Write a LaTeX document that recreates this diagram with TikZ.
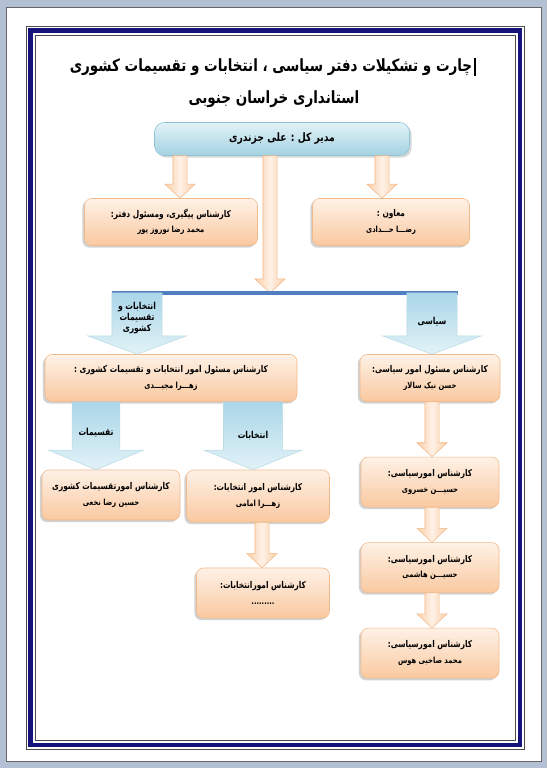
\documentclass[tikz,border=0pt]{standalone}
\usepackage{fontspec}
\newfontfamily\fafont[Script=Arabic, FakeStretch=0.8]{DejaVu Sans}
\TeXXeTstate=1
\usetikzlibrary{positioning,calc,shadows}
\definecolor{navyframe}{HTML}{16137A}
\definecolor{deskgray}{HTML}{B3C0D3}
\definecolor{peachtop}{HTML}{FEF1E6}
\definecolor{peachbot}{HTML}{FAC9A0}
\definecolor{peachline}{HTML}{F2B98A}
\definecolor{peacharr}{HTML}{FBCFA8}
\definecolor{skytop}{HTML}{E2F2F7}
\definecolor{skybot}{HTML}{A4D2E2}
\definecolor{skyline}{HTML}{8CC3D6}
\definecolor{bluearr}{HTML}{AAD6E9}
\definecolor{barline}{HTML}{4F7FC0}
\newcommand{\fa}[1]{\beginR #1\endR}
\newcommand{\subtxt}{\fontsize{6}{7}\selectfont}
\newcommand{\blkarrow}[6]{%
  \path[#1] let \p1=(#2), \p2=(#3) in
    (\x1-#4,\y1) -- (\x1-#4,\y2+#6) -- (\x1-#5,\y2+#6) -- (\x1,\y2)
    -- (\x1+#5,\y2+#6) -- (\x1+#4,\y2+#6) -- (\x1+#4,\y1) -- cycle;}
\tikzset{
  headtxt/.style={font=\fafont\bfseries\fontsize{12}{14}\selectfont, inner sep=0pt},
  bossbox/.style={draw=skyline, rounded corners=7pt, top color=skytop, bottom color=skybot,
    drop shadow={shadow xshift=1.5pt, shadow yshift=-1.5pt, opacity=.3},
    minimum width=255*0.025cm, minimum height=33*0.025cm, font=\fafont\bfseries\fontsize{8.2}{9}\selectfont},
  pbox/.style={draw=peachline, rounded corners=5pt, top color=peachtop, bottom color=peachbot,
    drop shadow={shadow xshift=-1.5pt, shadow yshift=-1.5pt, opacity=.35},
    align=center, minimum height=47*0.025cm, font=\fafont\bfseries\fontsize{6.6}{11}\selectfont},
  parr/.style={draw=peachline, left color=peacharr, right color=peacharr, middle color=peachtop},
  barr/.style={draw=skyline!60, top color=bluearr, bottom color=skytop},
  arrlbl/.style={font=\fafont\bfseries\fontsize{6.8}{8}\selectfont, align=center}
}
\begin{document}
\begin{tikzpicture}[x=0.025cm, y=-0.025cm]
\useasboundingbox (0,0) rectangle (547,768);
\fill[deskgray] (0,0) rectangle (547,768);
\draw[black!60, fill=white, line width=0.4pt] (6,7) rectangle (541,761);
\draw[black!70, line width=0.4pt] (26,26) rectangle (524.5,749.5);
\draw[navyframe, line width=3.5pt] (30.5,30.5) rectangle (520,745);
\draw[black!70, line width=0.4pt] (35.5,35.5) rectangle (515,740);

\node[headtxt] (title1) at (271,67) {\fa{چارت و تشکیلات دفتر سیاسی ، انتخابات و تقسیمات کشوری}};
\node[headtxt] (title2) at (274,99) {\fa{استانداری خراسان جنوبی}};
\draw[black, line width=1.3pt] ([xshift=2pt]title1.north east) -- ([xshift=2pt]title1.south east);

\node[bossbox] (boss) at (282,139) {\fa{مدیر کل : علی جزندری}};
\node[pbox, minimum width=173*0.025cm] (aide) at (171,222) {\fa{کارشناس پیگیری، ومسئول دفتر:}\\ \subtxt\fa{محمد رضا نوروز پور}};
\node[pbox, minimum width=157*0.025cm] (deputy) at (391,222) {\fa{معاون :}\\ \subtxt\fa{رضـــا حـــدادی}};

\coordinate (barL) at (112,293);
\coordinate (barR) at (458,293);

\node[pbox, minimum width=252*0.025cm] (elect) at (171,378) {\fa{کارشناس مسئول امور انتخابات و تقسیمات کشوری :}\\ \subtxt\fa{زهـــرا مجیـــدی}};
\node[pbox, minimum width=140*0.025cm] (pol1) at (430,378) {\fa{کارشناس مسئول امور سیاسی:}\\ \subtxt\fa{حسن نیک سالار}};
\node[pbox, minimum width=138*0.025cm, minimum height=50*0.025cm, below=55*0.025cm of pol1] (pol2) {\fa{کارشناس امورسیاسی:}\\ \subtxt\fa{حسیـــن خسروی}};
\node[pbox, minimum width=138*0.025cm, minimum height=50*0.025cm, below=35*0.025cm of pol2] (pol3) {\fa{کارشناس امورسیاسی:}\\ \subtxt\fa{حسیـــن هاشمی}};
\node[pbox, minimum width=138*0.025cm, minimum height=50*0.025cm, below=35*0.025cm of pol3] (pol4) {\fa{کارشناس امورسیاسی:}\\ \subtxt\fa{محمد صاحبی هوس}};

\node[pbox, minimum width=138*0.025cm, minimum height=50*0.025cm] (divs) at (111,495) {\fa{کارشناس امورتقسیمات کشوری}\\ \subtxt\fa{حسین رضا نخعی}};
\node[pbox, minimum width=143*0.025cm, minimum height=52*0.025cm] (elec1) at (258,496) {\fa{کارشناس امور انتخابات:}\\ \subtxt\fa{زهـــرا امامی}};
\node[pbox, minimum width=133*0.025cm, minimum height=50*0.025cm] (elec2) at (263,593) {\fa{کارشناس امورانتخابات:}\\ \subtxt\fa{.........}};

\blkarrow{parr}{[xshift=-102*0.025cm]boss.south}{aide.north}{5pt}{10.7pt}{10pt}
\blkarrow{parr}{[xshift=100*0.025cm]boss.south}{deputy.north}{5pt}{10.7pt}{10pt}
\blkarrow{parr}{[xshift=-12*0.025cm]boss.south}{barL}{5pt}{10.7pt}{10pt}
\draw[barline, line width=2.2pt] (barL) -- (barR);

\blkarrow{barr}{[xshift=25*0.025cm]barL}{elect.north}{17.8pt}{35pt}{13pt}
\blkarrow{barr}{[xshift=-26*0.025cm]barR}{pol1.north}{17.8pt}{35pt}{13pt}
\node[arrlbl] (lblA) at (137,318) {\fa{انتخابات و}\\ \fa{تقسیمات}\\ \fa{کشوری}};
\node[arrlbl] (lblB) at (432,322) {\fa{سیاسی}};

\blkarrow{barr}{[xshift=-75*0.025cm]elect.south}{divs.north}{17pt}{34pt}{14pt}
\blkarrow{barr}{[xshift=82*0.025cm]elect.south}{elec1.north}{21pt}{35pt}{14pt}
\node[arrlbl] (lblC) at (96,433) {\fa{تقسیمات}};
\node[arrlbl] (lblD) at (253,436) {\fa{انتخابات}};

\blkarrow{parr}{[xshift=4*0.025cm]elec1.south}{elec2.north}{5pt}{10.7pt}{10pt}
\blkarrow{parr}{[xshift=2*0.025cm]pol1.south}{pol2.north}{5pt}{10.7pt}{10pt}
\blkarrow{parr}{[xshift=2*0.025cm]pol2.south}{pol3.north}{5pt}{10.7pt}{10pt}
\blkarrow{parr}{[xshift=2*0.025cm]pol3.south}{pol4.north}{5pt}{10.7pt}{10pt}
\end{tikzpicture}
\end{document}
